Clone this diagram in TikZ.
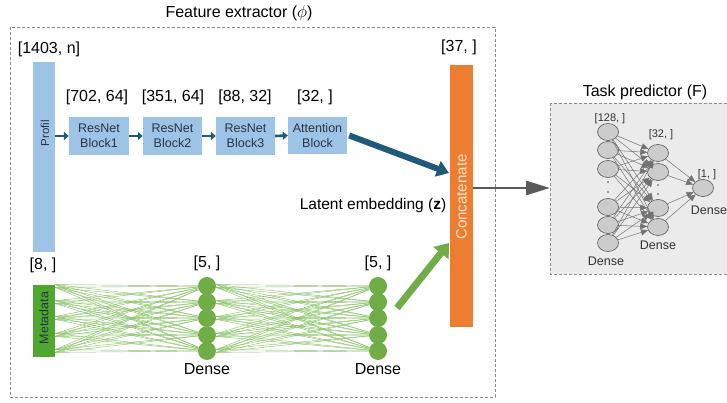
\documentclass[tikz,border=0pt]{standalone}
\usepackage{fontspec}
\setmainfont{Liberation Sans}
\usetikzlibrary{arrows.meta,shapes.geometric}
\definecolor{blueL}{HTML}{9DC3E6}
\definecolor{tealD}{HTML}{1F5A7A}
\definecolor{orangeC}{HTML}{ED7D31}
\definecolor{greenN}{HTML}{70AD47}
\definecolor{greenM}{HTML}{4EA72E}
\definecolor{greenL}{HTML}{8CC46C}
\definecolor{txtD}{HTML}{2A3442}
\definecolor{boxG}{HTML}{8C8C8C}
\begin{document}
\begin{tikzpicture}[x=1pt,y=-1pt,
  lbl/.style={font=\fontsize{16}{18}\selectfont, inner sep=0},
  slbl/.style={font=\fontsize{11}{13}\selectfont, inner sep=0, text=black!80},
  blk/.style={fill=blueL, minimum width=59, minimum height=38, inner sep=0,
    font=\fontsize{12.5}{14.5}\selectfont, text=txtD, align=center},
  sarrow/.style={draw=tealD, line width=2.6, -{Triangle[length=5,width=8]}},
  gnode/.style={circle, fill=greenN, minimum size=18, inner sep=0},
  gline/.style={draw=greenL, line width=0.45},
  tnode/.style={ellipse, draw=black!65, fill=black!20, line width=0.6, minimum width=21, minimum height=17, inner sep=0},
  tline/.style={draw=black!55, line width=0.5, -{Triangle[length=7,width=6]}},
  dbox/.style={draw=boxG, dashed, dash pattern=on 3pt off 2pt, line width=0.8}
]
\useasboundingbox (0,0) rectangle (727,403);

% outer dashed box
\draw[dbox] (10,27) rectangle (495,397);
\node[lbl] (title) at (239,13) {Feature extractor ($\phi$)};

% profil bar
\node[fill=blueL, minimum width=22, minimum height=190, inner sep=0] (profil) at (44,157) {};
\node[rotate=90, font=\fontsize{11.5}{13}\selectfont, text=txtD, inner sep=0] (proftxt) at (45,133) {Profil};
\node[lbl] (l1403) at (49,49) {[1403, n]};

% blocks
\node[blk, minimum width=60] (b1) at (99,136) {ResNet\\Block1};
\node[blk] (b2) at (172.5,136) {ResNet\\Block2};
\node[blk] (b3) at (245.5,136) {ResNet\\Block3};
\node[blk, minimum height=37] (att) at (317.5,135.5) {Attention\\Block};
\node[lbl] (l702) at (97,97) {[702, 64]};
\node[lbl] (l351) at (173,97) {[351, 64]};
\node[lbl] (l88) at (245,97) {[88, 32]};
\node[lbl] (l32) at (315,97) {[32, ]};

\draw[sarrow] (b1.west -| profil.east) -- (b1.west);
\draw[sarrow] (b1.east) -- (b2.west);
\draw[sarrow] (b2.east) -- (b3.west);
\draw[sarrow] (b3.east) -- (att.west);

% concatenate
\node[fill=orangeC, minimum width=23, minimum height=262, inner sep=0] (cat) at (461.5,196) {};
\node[rotate=90, font=\fontsize{15}{17}\selectfont, text=orange!20, inner sep=0] (cattxt) at (461.5,197) {Concatenate};
\node[lbl] (l37) at (459,47) {[37, ]};

\coordinate (catin1) at (449,173);
\draw[draw=tealD, line width=6, -{Triangle[length=12,width=16]}] ([xshift=2]att.east) -- (catin1);
\node[lbl, font=\fontsize{15.5}{18}\selectfont] (latent) at (373,205) {Latent embedding (\textbf{z})};

% metadata
\node[fill=greenM, minimum width=22, minimum height=72, inner sep=0] (meta) at (44,321) {};
\node[rotate=90, font=\fontsize{12.5}{14}\selectfont, text=txtD, inner sep=0] (metatxt) at (44,318) {Metadata};
\node[lbl] (l8) at (43,265) {[8, ]};

\foreach \i/\y in {1/286,2/302,3/318,4/335,5/351}{
  \coordinate (mo\i) at (55,\y);
}
\foreach \i/\y in {1/286,2/302,3/318,4/335,5/351}{
  \node[gnode] (ga\i) at (207,\y) {};
  \node[gnode] (gb\i) at (378,\y) {};
}
\foreach \i in {1,...,5}{
  \foreach \j in {1,...,5}{
    \draw[gline] ([yshift=1.4]mo\i) -- (ga\j);
    \draw[gline] ([yshift=-1.4]mo\i) -- (ga\j);
    \draw[gline] ([yshift=1.4]ga\i.east) -- (gb\j);
    \draw[gline] ([yshift=-1.4]ga\i.east) -- (gb\j);
  }
}
\node[lbl] (l5a) at (207,263) {[5, ]};
\node[lbl] (l5b) at (378,263) {[5, ]};
\node[lbl] (da) at (207,369) {Dense};
\node[lbl] (db) at (378,369) {Dense};

\coordinate (gs) at (397,308);
\coordinate (catin2) at (449,243);
\draw[draw=greenN, line width=7, -{Triangle[length=13,width=19]}] (gs) -- (catin2);

% task predictor
\draw[dbox, fill=black!8] (550,103) rectangle (745,274);
\node[lbl] (ttitle) at (645,92) {Task predictor (F)};

\coordinate (catout) at (cat.east |- 0,188);
\draw[draw=black!65, line width=2.6, -{Triangle[length=24,width=14]}] (catout) -- (550,188);

\foreach \i/\y in {1/132,2/150,3/169,4/207,5/225,6/243}{
  \node[tnode] (ta\i) at (608,\y) {};
}
\foreach \i/\y in {1/153,2/172,3/208,4/227}{
  \node[tnode] (tb\i) at (658,\y) {};
}
\node[tnode] (tc) at (703,188) {};
\foreach \i in {1,...,6}{
  \foreach \j in {1,...,4}{
    \draw[tline] (ta\i) -- (tb\j);
  }
}
\foreach \j in {1,...,4}{
  \draw[tline] (tb\j) -- (tc);
}
\foreach \y in {182,192}{
  \fill[black!70] (608,\y) circle (0.8);
}
\foreach \y in {185,194}{
  \fill[black!70] (658,\y) circle (0.8);
}
\node[slbl] (t128) at (610,119) {[128, ]};
\node[slbl] (t32) at (661,135) {[32, ]};
\node[slbl] (t1) at (707,175) {[1, ]};
\node[slbl, font=\fontsize{12.5}{14}\selectfont] (td1) at (606,261) {Dense};
\node[slbl, font=\fontsize{12.5}{14}\selectfont] (td2) at (658,245) {Dense};
\node[slbl, font=\fontsize{12.5}{14}\selectfont] (td3) at (709,210) {Dense};
\end{tikzpicture}
\end{document}
